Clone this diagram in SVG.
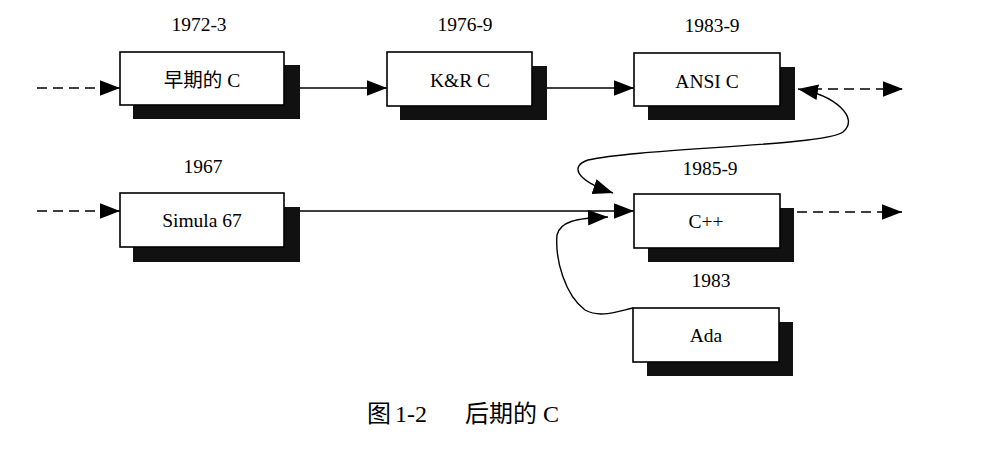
<svg xmlns="http://www.w3.org/2000/svg" width="987" height="468" viewBox="0 0 987 468">
<defs>
<marker id="arr" markerUnits="userSpaceOnUse" markerWidth="20" markerHeight="20" viewBox="0 0 18 14" refX="18" refY="7" orient="auto-start-reverse">
<path d="M0,0 L18,7 L0,14 Z" fill="#000"/>
</marker>
</defs>
<style>
.box{fill:#fff;stroke:#000;stroke-width:1.6}
.sh{fill:#111}
.t{font-family:"Liberation Serif","Noto Sans CJK SC",serif;font-size:19.5px;fill:#000;text-anchor:middle}
.ln{fill:none;stroke:#000;stroke-width:1.4}
.dash{stroke-dasharray:10 6}
</style>
<rect width="987" height="468" fill="#fff"/>
<g id="labels">
<text class="t" x="199" y="31">1972-3</text>
<text class="t" x="465" y="31">1976-9</text>
<text class="t" x="712" y="32">1983-9</text>
<text class="t" x="203" y="173">1967</text>
<text class="t" x="710" y="175">1985-9</text>
<text class="t" x="711" y="287">1983</text>
</g>
<g id="node-early-c">
<rect class="sh" x="133" y="65" width="167" height="54"/>
<rect class="box" x="120" y="52" width="164" height="53"/>
<text class="t" x="202" y="87">早期的 C</text>
</g>
<g id="node-kr-c">
<rect class="sh" x="400" y="66" width="147" height="54"/>
<rect class="box" x="387" y="52" width="145" height="54"/>
<text class="t" x="460" y="87">K&amp;R C</text>
</g>
<g id="node-ansi-c">
<rect class="sh" x="648" y="67" width="147" height="53"/>
<rect class="box" x="634" y="53" width="146" height="53"/>
<text class="t" x="707" y="88">ANSI C</text>
</g>
<g id="node-simula">
<rect class="sh" x="133" y="207" width="167" height="55"/>
<rect class="box" x="120" y="193" width="164" height="54"/>
<text class="t" x="202" y="227">Simula 67</text>
</g>
<g id="node-cpp">
<rect class="sh" x="648" y="208" width="146" height="54"/>
<rect class="box" x="634" y="194" width="146" height="54"/>
<text class="t" x="706" y="228">C++</text>
</g>
<g id="node-ada">
<rect class="sh" x="647" y="322" width="146" height="54"/>
<rect class="box" x="633" y="308" width="146" height="54"/>
<text class="t" x="706" y="342">Ada</text>
</g>
<g id="connectors">
<line class="ln dash" x1="37" y1="88" x2="120" y2="88" marker-end="url(#arr)"/>
<line class="ln" x1="300" y1="88" x2="387" y2="88" marker-end="url(#arr)"/>
<line class="ln" x1="547" y1="88" x2="634" y2="88" marker-end="url(#arr)"/>
<line class="ln dash" x1="812" y1="89" x2="903" y2="89" marker-end="url(#arr)"/>
<path class="ln" d="M798,89 C835,95 860,118 843,132 C825,146 640,148 588,160 C570,166 575,180 613,193" marker-start="url(#arr)" marker-end="url(#arr)"/>
<line class="ln dash" x1="37" y1="211" x2="120" y2="211" marker-end="url(#arr)"/>
<line class="ln" x1="300" y1="211" x2="634" y2="211" marker-end="url(#arr)"/>
<line class="ln dash" x1="797" y1="212" x2="902" y2="212" marker-end="url(#arr)"/>
<path class="ln" d="M633,308 C615,312 600,318 585,310 C565,295 555,260 557,235 C560,222 575,218 608,217" marker-end="url(#arr)"/>
</g>
<g id="caption">
<text font-family="'Liberation Serif','Noto Sans CJK SC',serif" font-size="24" y="422"><tspan x="367">图</tspan><tspan x="395">1-2</tspan><tspan x="465">后期的 C</tspan></text>
</g>
</svg>
